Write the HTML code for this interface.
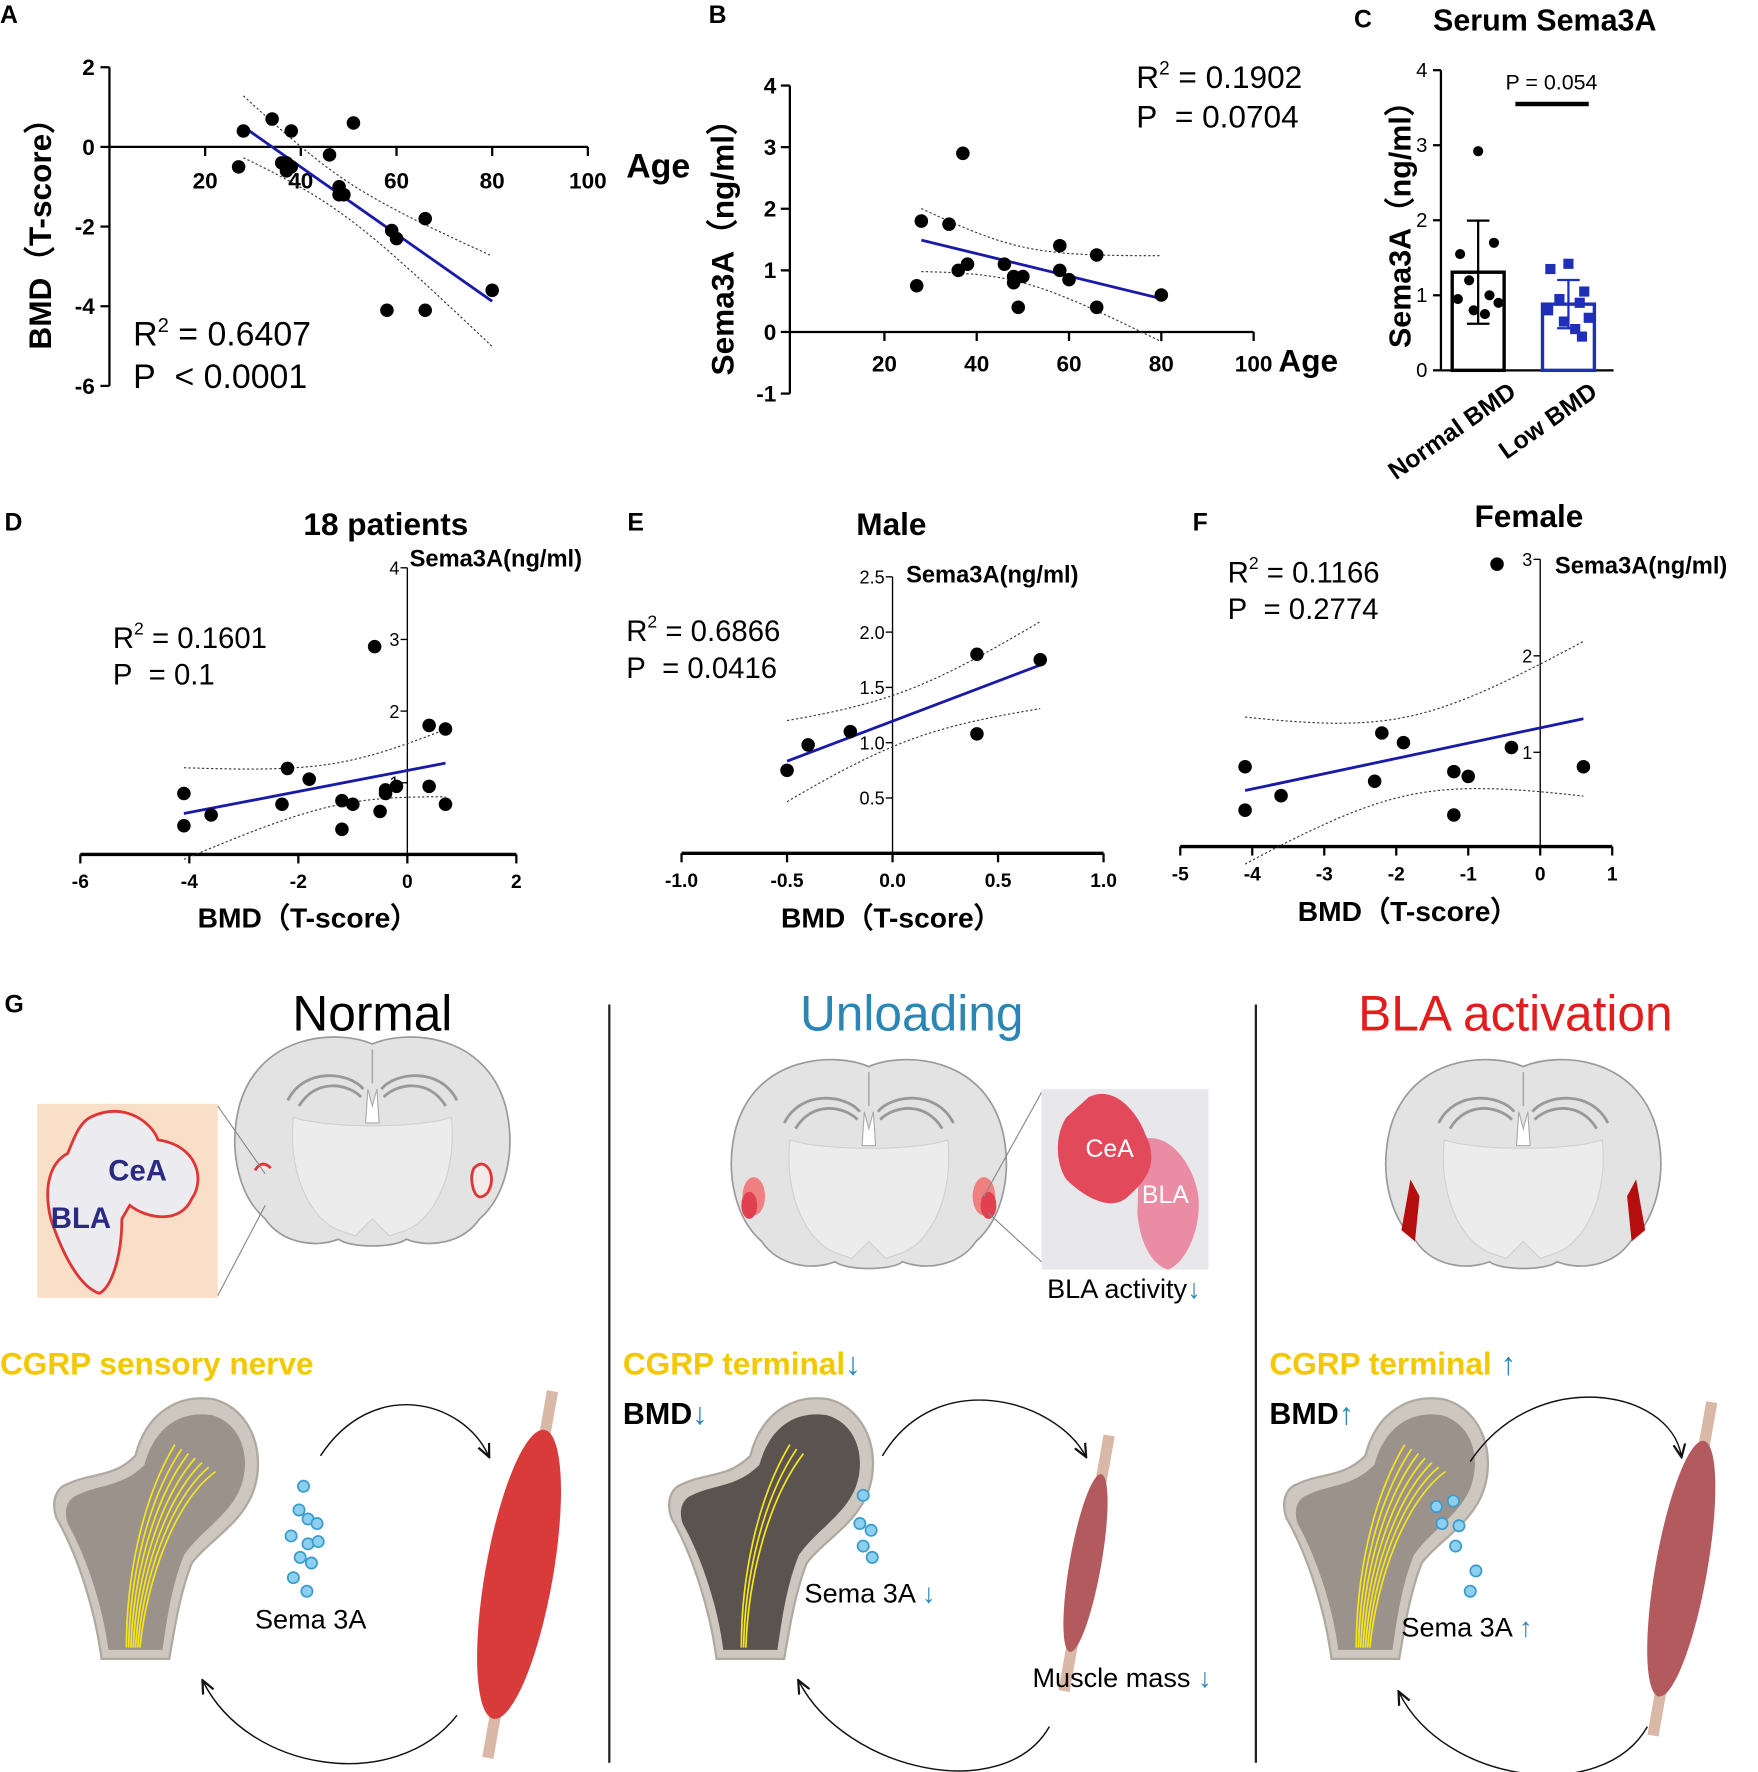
<!DOCTYPE html>
<html><head><meta charset="utf-8"><style>
html,body{margin:0;padding:0;background:#fff;}
svg{display:block;}
text{font-family:"Liberation Sans",Arial,sans-serif;}
.t{font-weight:bold;font-size:20px;}
.ax{stroke:#000;stroke-width:2;fill:none;}
</style></head><body>
<svg id="fig" xmlns="http://www.w3.org/2000/svg" width="1758" height="1772" viewBox="0 0 1558 1570">
<g id="charts"></g>
<g id="schem"></g>
</svg>
<script>
// ---- data ----
const ageA = [27,28,34,36,37,38,38,37,46,48,48,49,51,58,59,60,66,66,80];
const bmdA = [-0.5,0.4,0.7,-0.4,-0.6,0.4,-0.5,-0.4,-0.2,-1.0,-1.2,-1.2,0.6,-4.1,-2.1,-2.3,-1.8,-4.1,-3.6];
const ageB = [27,28,34,36,37,38,46,48,48,49,50,58,58,60,66,66,80];
const semaB = [0.75,1.8,1.75,1.0,2.9,1.1,1.1,0.9,0.8,0.4,0.9,1.4,1.0,0.85,1.25,0.4,0.6];
const normalPts = [2.92,1.55,1.7,1.2,1.0,0.95,0.9,0.8,0.75];
const lowPts = [1.42,1.35,1.05,0.95,0.9,0.8,0.7,0.65,0.55,0.45];
const bmdD = [-4.1,-4.1,-3.6,-2.2,-2.3,-1.8,-1.2,-1.2,-1.0,-0.5,-0.4,-0.4,-0.2,0.4,0.4,0.7,0.7,-0.6];
const semaD = [0.85,0.4,0.55,1.2,0.7,1.05,0.75,0.35,0.7,0.6,0.85,0.9,0.95,1.8,0.95,1.75,0.7,2.9];
const bmdE = [-0.5,-0.4,-0.2,0.4,0.4,0.7];
const semaE = [0.75,0.98,1.1,1.8,1.08,1.75];
const bmdF = [-4.1,-4.1,-3.6,-2.2,-2.3,-1.9,-1.2,-1.2,-1.0,-0.4,0.6,-0.6];
const semaF = [0.85,0.4,0.55,1.2,0.7,1.1,0.8,0.35,0.75,1.05,0.85,2.95];
const ticksAx = [20,40,60,80,100], ticksAy = [2,0,-2,-4,-6];
const ticksBx = [20,40,60,80,100], ticksBy = [4,3,2,1,0,-1];
const ticksCy = [0,1,2,3,4];
const ticksDx = [-6,-4,-2,0,2], ticksDy = [1,2,3,4];
const ticksEx = [-1.0,-0.5,0.0,0.5,1.0], ticksEy = [0.5,1.0,1.5,2.0,2.5];
const ticksFx = [-5,-4,-3,-2,-1,0,1], ticksFy = [1,2,3];

const NS="http://www.w3.org/2000/svg";
function el(parent,tag,attrs,txt){const e=document.createElementNS(NS,tag);for(const k in attrs)e.setAttribute(k,attrs[k]);if(txt!==undefined)e.textContent=txt;parent.appendChild(e);return e;}
const C=document.getElementById('charts');

function fit(xs,ys){const n=xs.length;const mx=xs.reduce((a,b)=>a+b)/n,my=ys.reduce((a,b)=>a+b)/n;let sxx=0,sxy=0;for(let i=0;i<n;i++){sxx+=(xs[i]-mx)**2;sxy+=(xs[i]-mx)*(ys[i]-my);}const b=sxy/sxx,a=my-b*mx;let sse=0;for(let i=0;i<n;i++)sse+=(ys[i]-a-b*xs[i])**2;const s=Math.sqrt(sse/(n-2));return {a,b,mx,sxx,s,n};}

function regression(g,xs,ys,sx,sy,x0,x1,name){
  const f=fit(xs,ys);const t=2.12;
  const line=el(g,'line',{x1:sx(x0),y1:sy(f.a+f.b*x0),x2:sx(x1),y2:sy(f.a+f.b*x1),stroke:'#1a1aa8','stroke-width':2.5});
  
  
  for(const sgn of [1,-1]){let d='';for(let k=0;k<=40;k++){const x=x0+(x1-x0)*k/40;const se=f.s*Math.sqrt(1/f.n+(x-f.mx)**2/f.sxx);const y=f.a+f.b*x+sgn*t*se;d+=(k?'L':'M')+sx(x).toFixed(1)+','+sy(y).toFixed(1);}
    const p=el(g,'path',{d,fill:'none',stroke:'#333','stroke-width':1,'stroke-dasharray':'2,2'});
    
    }
}
function dots(g,xs,ys,sx,sy,name){for(let i=0;i<xs.length;i++){const c=el(g,'circle',{cx:sx(xs[i]),cy:sy(ys[i]),r:6,fill:'#000'});
  
  }}
function txt(g,x,y,s,attrs,name){const t=el(g,'text',Object.assign({x,y},attrs),s);
  
  return t;}
function r2(g,x,y,r,p,fs,name){const t=el(g,'text',{x,y,'font-size':fs});t.innerHTML='R<tspan dy="-12" font-size="'+(fs*0.6)+'">2</tspan><tspan dy="12"> = '+r+'</tspan>';
  
  
  txt(g,x,y+fs*1.25,'P\u00a0\u00a0'+p,{'font-size':fs},name+'-p-value');}

// ---- Panel A ----
(function(){const g=el(C,'g',{});
 const sx=v=>97+v*4.24, sy=v=>130-v*35.3;
 txt(g,0,20,'A',{'font-size':22,'font-weight':'bold'},'panel-a-label');
 el(g,'line',{x1:97,y1:sy(2),x2:97,y2:sy(-6),class:'ax'});el(g,'line',{x1:97,y1:130,x2:sx(100),y2:130,class:'ax'});
 ticksAy.forEach(v=>{el(g,'line',{x1:89,y1:sy(v),x2:97,y2:sy(v),class:'ax'});txt(g,84,sy(v)+7,String(v),{class:'t','text-anchor':'end'},'y-tick-label');});
 ticksAx.forEach(v=>{el(g,'line',{x1:sx(v),y1:130,x2:sx(v),y2:138,class:'ax'});txt(g,sx(v),167,String(v),{class:'t','text-anchor':'middle'},'x-tick-label');});
 txt(g,555,157,'Age',{'font-size':30,'font-weight':'bold'},'x-axis-title');
 txt(g,0,0,'BMD（T-score）',{'font-size':28,'font-weight':'bold','text-anchor':'middle',transform:'translate(45,200) rotate(-90)'},'y-axis-title');
 regression(g,ageA,bmdA,sx,sy,28,80,'panel-a');dots(g,ageA,bmdA,sx,sy,'panel-a');
 r2(g,118,306,'0.6407','< 0.0001',30,'panel-a');})();

// ---- Panel B ----
(function(){const g=el(C,'g',{});
 const sx=v=>702+v*4.09, sy=v=>294-v*54.6;
 txt(g,628,20,'B',{'font-size':22,'font-weight':'bold'},'panel-b-label');
 el(g,'line',{x1:700,y1:sy(4),x2:700,y2:sy(-1),class:'ax'});el(g,'line',{x1:700,y1:294,x2:sx(100),y2:294,class:'ax'});
 ticksBy.forEach(v=>{el(g,'line',{x1:692,y1:sy(v),x2:700,y2:sy(v),class:'ax'});txt(g,688,sy(v)+7,String(v),{class:'t','text-anchor':'end'},'y-tick-label');});
 ticksBx.forEach(v=>{el(g,'line',{x1:sx(v),y1:294,x2:sx(v),y2:302,class:'ax'});txt(g,sx(v),329,String(v),{class:'t','text-anchor':'middle'},'x-tick-label');});
 txt(g,1133,329,'Age',{'font-size':28,'font-weight':'bold'},'x-axis-title');
 txt(g,0,0,'Sema3A（ng/ml）',{'font-size':28,'font-weight':'bold','text-anchor':'middle',transform:'translate(650,212) rotate(-90)'},'y-axis-title');
 regression(g,ageB,semaB,sx,sy,28,80,'panel-b');dots(g,ageB,semaB,sx,sy,'panel-b');
 r2(g,1007,78,'0.1902','= 0.0704',28,'panel-b');})();

// ---- Panel C ----
(function(){const g=el(C,'g',{});
 const sy=v=>328-v*66.5;
 txt(g,1200,24,'C',{'font-size':22,'font-weight':'bold'},'panel-c-label');
 txt(g,1270,27,'Serum Sema3A',{'font-size':27,'font-weight':'bold'},'panel-c-title');
 el(g,'line',{x1:1277,y1:sy(4),x2:1277,y2:328,class:'ax'});el(g,'line',{x1:1277,y1:328,x2:1430,y2:328,class:'ax'});
 ticksCy.forEach(v=>{el(g,'line',{x1:1270,y1:sy(v),x2:1277,y2:sy(v),class:'ax'});txt(g,1265,sy(v)+6,String(v),{'font-size':18,'text-anchor':'end'},'y-tick-label');});
 txt(g,0,0,'Sema3A（ng/ml）',{'font-size':27,'font-weight':'bold','text-anchor':'middle',transform:'translate(1250,192) rotate(-90)'},'y-axis-title');
 const groups=[[normalPts,1310,'#000','normal-bmd'],[lowPts,1390,'#1f2fb8','low-bmd']];
 const jitter=[0,-16,14,-8,10,-18,18,-4,6,12];
 groups.forEach(([pts,cx,col,nm])=>{const n=pts.length,m=pts.reduce((a,b)=>a+b)/n,sd=Math.sqrt(pts.reduce((a,b)=>a+(b-m)**2,0)/(n-1));
  const b=el(g,'rect',{x:cx-23,y:sy(m),width:46,height:328-sy(m),fill:'none',stroke:col,'stroke-width':3});
  
  el(g,'line',{x1:cx,y1:sy(m+sd),x2:cx,y2:sy(m-sd),stroke:col,'stroke-width':2});
  el(g,'line',{x1:cx-10,y1:sy(m+sd),x2:cx+10,y2:sy(m+sd),stroke:col,'stroke-width':2});
  el(g,'line',{x1:cx-10,y1:sy(m-sd),x2:cx+10,y2:sy(m-sd),stroke:col,'stroke-width':2});
  pts.forEach((v,i)=>{const x=cx+jitter[i];let p;if(nm==='low-bmd')p=el(g,'rect',{x:x-4.5,y:sy(v)-4.5,width:9,height:9,fill:col});else p=el(g,'circle',{cx:x,cy:sy(v),r:4.5,fill:col});
   });});
 el(g,'line',{x1:1343,y1:92,x2:1408,y2:92,stroke:'#000','stroke-width':4});
 txt(g,1375,79,'P = 0.054',{'font-size':19,'text-anchor':'middle'},'significance-label');
 txt(g,0,0,'Normal BMD',{'font-size':22,'font-weight':'bold','text-anchor':'end',transform:'translate(1345,350) rotate(-35)'},'x-tick-label-normal');
 txt(g,0,0,'Low BMD',{'font-size':22,'font-weight':'bold','text-anchor':'end',transform:'translate(1417,350) rotate(-35)'},'x-tick-label-low');})();

// ---- D/E/F ----
function bottomPanel(o){const g=el(C,'g',{});
 const sx=o.sx, sy=o.sy;
 txt(g,o.lx,o.ly,o.letter,{'font-size':22,'font-weight':'bold'},o.name+'-label');
 txt(g,o.tx,o.ty,o.title,{'font-size':28,'font-weight':'bold','text-anchor':'middle'},o.name+'-title');
 el(g,'line',{x1:sx(o.xt[0]),y1:o.x0y,x2:sx(o.xt[o.xt.length-1]),y2:o.x0y,stroke:'#000','stroke-width':3});
 el(g,'line',{x1:sx(0),y1:o.x0y,x2:sx(0),y2:sy(o.yt[o.yt.length-1]),stroke:'#000','stroke-width':1.2});
 o.xt.forEach(v=>{el(g,'line',{x1:sx(v),y1:o.x0y,x2:sx(v),y2:o.x0y+8,class:'ax'});txt(g,sx(v),o.x0y+30,o.fmt(v),{'font-size':17,'font-weight':'bold','text-anchor':'middle'},'x-tick-label');});
 o.yt.forEach(v=>{el(g,'line',{x1:sx(0)-6,y1:sy(v),x2:sx(0),y2:sy(v),stroke:'#000','stroke-width':1.2});txt(g,sx(0)-7,sy(v)+6,o.yfmt(v),{'font-size':16,'text-anchor':'end'},'y-tick-label');});
 txt(g,sx(0)+o.ylx,o.yly,'Sema3A(ng/ml)',{'font-size':21,'font-weight':'bold'},o.name+'-y-axis-title');
 txt(g,o.bx,o.by,'BMD（T-score）',{'font-size':25,'font-weight':'bold','text-anchor':'middle'},o.name+'-x-axis-title');
 regression(g,o.xs,o.ys,sx,sy,o.r0,o.r1,o.name);dots(g,o.xs,o.ys,sx,sy,o.name);
 r2(g,o.rx,o.ry,o.r2,o.p,26,o.name);}
bottomPanel({name:'panel-d',letter:'D',lx:4,ly:470,title:'18 patients',tx:342,ty:474,sx:v=>361+v*48.3,sy:v=>757-v*63.5,x0y:757,xt:ticksDx,yt:ticksDy,fmt:v=>String(v),yfmt:v=>String(v),ylx:2,yly:502,bx:273,by:822,xs:bmdD,ys:semaD,r0:-4.1,r1:0.7,rx:100,ry:574,r2:'0.1601',p:'= 0.1'});
bottomPanel({name:'panel-e',letter:'E',lx:556,ly:470,title:'Male',tx:790,ty:474,sx:v=>791+v*187,sy:v=>756-v*98,x0y:756,xt:ticksEx,yt:ticksEy,fmt:v=>v.toFixed(1),yfmt:v=>v.toFixed(1),ylx:12,yly:516,bx:790,by:822,xs:bmdE,ys:semaE,r0:-0.5,r1:0.7,rx:555,ry:568,r2:'0.6866',p:'= 0.0416'});
bottomPanel({name:'panel-f',letter:'F',lx:1057,ly:470,title:'Female',tx:1355,ty:467,sx:v=>1365+v*63.8,sy:v=>752-v*85.5,x0y:750,xt:ticksFx,yt:ticksFy,fmt:v=>String(v),yfmt:v=>String(v),ylx:13,yly:508,bx:1248,by:816,xs:bmdF,ys:semaF,r0:-4.1,r1:0.6,rx:1088,ry:516,r2:'0.1166',p:'= 0.2774'});

// ---- Schematic G ----
const S=document.getElementById('schem');
function nm(e,n){return e;}
nm(el(S,'text',{x:4,y:897,'font-size':22,'font-weight':'bold'},'G'),'panel-g-label');
nm(el(S,'line',{x1:540,y1:890,x2:540,y2:1562,stroke:'#222','stroke-width':2}),'divider');
nm(el(S,'line',{x1:1113,y1:890,x2:1113,y2:1562,stroke:'#222','stroke-width':2}),'divider');
nm(el(S,'text',{x:330,y:913,'font-size':44,'text-anchor':'middle',fill:'#000'},'Normal'),'title-normal');
nm(el(S,'text',{x:808,y:913,'font-size':44,'text-anchor':'middle',fill:'#2a86b5'},'Unloading'),'title-unloading');
nm(el(S,'text',{x:1343,y:913,'font-size':44,'text-anchor':'middle',fill:'#e21d1d'},'BLA activation'),'title-bla-activation');

function brain(cx,cy,am){const g=nm(el(S,'g',{transform:`translate(${cx},${cy})`}),'brain-section');
 el(g,'path',{d:'M0,-85 C-30,-98 -100,-95 -118,-30 C-128,10 -118,50 -95,70 C-80,92 -50,96 -30,88 C-20,96 20,96 30,88 C50,96 80,92 95,70 C118,50 128,10 118,-30 C100,-95 30,-98 0,-85 Z',fill:'#e3e3e3',stroke:'#9a9a9a','stroke-width':1.5});
 el(g,'path',{d:'M0,-80 L0,-50',stroke:'#aaa','stroke-width':1.5});
 el(g,'path',{d:'M-75,-35 C-60,-65 -20,-60 -8,-45 M75,-35 C60,-65 20,-60 8,-45 M-65,-30 C-50,-55 -22,-50 -10,-38 M65,-30 C50,-55 22,-50 10,-38',fill:'none',stroke:'#999','stroke-width':2.5});
 el(g,'path',{d:'M-70,-20 C-75,30 -55,70 -30,80 L-15,85 L0,70 L15,85 L30,80 C55,70 75,30 70,-20 C40,-10 -40,-10 -70,-20Z',fill:'#ececec',stroke:'#d0d0d0'});
 el(g,'path',{d:'M-4,-45 L0,-30 L4,-45 L6,-15 L-6,-15Z',fill:'#fff',stroke:'#aaa'});
 am(g);}
brain(330,1010,g=>{[-1,1].forEach(s=>el(g,'path',{d:`M${s*90},25 q${s*8},-8 ${s*14},2 q${s*4},10 -${s*2},20 q-${s*8},8 -${s*12},-2 q-${s*4},-12 0,-20Z`,fill:'#f4eaea',stroke:'#e03535','stroke-width':2.5}));});
brain(770,1030,g=>{[-1,1].forEach(s=>{el(g,'ellipse',{cx:s*102,cy:30,rx:10,ry:17,fill:'#f08080'});el(g,'ellipse',{cx:s*106,cy:38,rx:7,ry:12,fill:'#e04050'});});});
brain(1350,1030,g=>{[-1,1].forEach(s=>el(g,'path',{d:`M${s*100},15 L${s*108},60 L${s*96},70 L${s*92},30Z`,fill:'#b50e0e'}));});
// inset normal
nm(el(S,'rect',{x:33,y:978,width:160,height:172,fill:'#f9dfc8'}),'inset-normal');
el(S,'line',{x1:193,y1:980,x2:235,y2:1040,stroke:'#888'});el(S,'line',{x1:193,y1:1148,x2:235,y2:1068,stroke:'#888'});
el(S,'path',{d:'M80,990 C110,975 135,995 140,1010 C175,1015 182,1045 170,1062 C160,1085 130,1080 115,1068 L108,1080 C108,1110 100,1140 88,1146 C70,1140 55,1110 45,1080 C38,1050 45,1030 60,1022 C65,1010 70,995 80,990Z',fill:'#ececf0',stroke:'#e03535','stroke-width':2.5});
nm(el(S,'text',{x:96,y:1046,'font-size':26,'font-weight':'bold',fill:'#2a2a80'},'CeA'),'label-cea');
nm(el(S,'text',{x:45,y:1088,'font-size':26,'font-weight':'bold',fill:'#2a2a80'},'BLA'),'label-bla');
// inset unloading
nm(el(S,'rect',{x:923,y:965,width:148,height:160,fill:'#e8e8ec'}),'inset-unloading');
el(S,'line',{x1:923,y1:968,x2:872,y2:1060,stroke:'#888'});el(S,'line',{x1:923,y1:1118,x2:876,y2:1075,stroke:'#888'});
el(S,'path',{d:'M1010,1010 C1040,1000 1060,1040 1062,1060 C1065,1090 1050,1120 1035,1125 C1020,1120 1010,1100 1008,1075Z',fill:'#e98ca4'});
el(S,'path',{d:'M965,972 C990,960 1010,990 1015,1005 C1030,1035 1010,1050 1000,1060 C985,1075 960,1060 945,1045 C935,1030 935,1005 945,990Z',fill:'#e24a5c'});
nm(el(S,'text',{x:962,y:1025,'font-size':22,fill:'#fff'},'CeA'),'label-cea');
nm(el(S,'text',{x:1012,y:1066,'font-size':22,fill:'#fff'},'BLA'),'label-bla');
const ba=nm(el(S,'text',{x:928,y:1150,'font-size':24}),'label-bla-activity');ba.innerHTML='BLA activity<tspan fill="#2a86b5">↓</tspan>';

// bones
function bone(dx,dark){const g=nm(el(S,'g',{transform:`translate(${dx},0)`}),'femur-bone');
 el(g,'path',{d:'M60,1315 C80,1305 100,1310 120,1290 C130,1250 160,1235 190,1240 C225,1250 235,1290 225,1320 C215,1350 185,1365 170,1385 C160,1410 155,1440 150,1470 L90,1470 C85,1430 70,1380 50,1345 C45,1330 50,1318 60,1315Z',fill:'#cdc7bf',stroke:'#b0a9a0','stroke-width':2});
 el(g,'path',{d:'M68,1325 C88,1315 108,1318 128,1298 C138,1262 162,1250 188,1254 C215,1262 222,1292 214,1316 C205,1342 178,1356 163,1378 C152,1405 148,1435 144,1462 L96,1462 C92,1428 78,1382 60,1350 C56,1338 60,1328 68,1325Z',fill:dark?'#4e4643':'#8a807a',opacity:dark?0.9:0.75});
 const n=dark?3:7;
 for(let i=0;i<n;i++) el(g,'path',{d:`M${112+i*2},1460 C${112+i*3},1400 ${125+i*5},1330 ${155+i*6},${1280+i*4}`,fill:'none',stroke:'#f5e51c','stroke-width':1.5});}
bone(0,false);bone(545,true);bone(1090,false);
// muscles
function muscle(cx,cy,w,h,col,rot){const g=nm(el(S,'g',{transform:`translate(${cx},${cy}) rotate(${rot})`}),'muscle');
 el(g,'rect',{x:-4,y:-h/2-35,width:10,height:45,fill:'#d9b8a8'});el(g,'rect',{x:-4,y:h/2-10,width:10,height:45,fill:'#d9b8a8'});
 el(g,'ellipse',{cx:0,cy:0,rx:w/2,ry:h/2,fill:col});}
muscle(460,1395,60,260,'#d93b3b',10);muscle(962,1385,28,160,'#b35a5f',10);muscle(1490,1390,46,230,'#b35a5f',10);
// arrows
function arc(d,n){const p=nm(el(S,'path',{d,fill:'none',stroke:'#111','stroke-width':1.3,'marker-end':'url(#ah)'}),n);}
const defs=el(document.getElementById('fig'),'defs',{});const mk=el(defs,'marker',{id:'ah',markerWidth:10,markerHeight:10,refX:8,refY:5,orient:'auto'});el(mk,'path',{d:'M0,1 L9,5 L0,9',fill:'none',stroke:'#111','stroke-width':1.5});
arc('M284,1290 C330,1220 410,1240 433,1290','arrow');arc('M405,1520 C350,1590 220,1570 180,1490','arrow');
arc('M782,1290 C830,1210 935,1240 962,1290','arrow');arc('M930,1530 C890,1600 750,1570 708,1490','arrow');
arc('M1303,1295 C1360,1210 1480,1230 1490,1290','arrow');arc('M1460,1530 C1420,1600 1280,1580 1240,1500','arrow');
// sema dots
function sdots(list){list.forEach(([x,y])=>nm(el(S,'circle',{cx:x,cy:y,r:5,fill:'#8ccfee',stroke:'#3a9ccc','stroke-width':1.5}),'sema3a-molecule'));}
sdots([[269,1317],[265,1338],[273,1346],[281,1350],[258,1361],[273,1368],[282,1366],[266,1380],[276,1385],[260,1398],[272,1410]]);
sdots([[765,1325],[762,1350],[772,1356],[765,1370],[773,1380]]);
sdots([[1273,1335],[1288,1330],[1278,1350],[1293,1352],[1290,1370],[1308,1392],[1303,1410]]);
// labels
const ylw='#f3c800';
nm(el(S,'text',{x:0,y:1218,'font-size':28,'font-weight':'bold',fill:ylw},'CGRP sensory nerve'),'label-cgrp-sensory-nerve');
const t1=nm(el(S,'text',{x:552,y:1218,'font-size':28,'font-weight':'bold',fill:ylw}),'label-cgrp-terminal-down');t1.innerHTML='CGRP terminal<tspan fill="#2a86b5" font-weight="normal">↓</tspan>';
const t2=nm(el(S,'text',{x:1125,y:1218,'font-size':28,'font-weight':'bold',fill:ylw}),'label-cgrp-terminal-up');t2.innerHTML='CGRP terminal <tspan fill="#2a86b5" font-weight="normal">↑</tspan>';
const t3=nm(el(S,'text',{x:552,y:1262,'font-size':27,'font-weight':'bold'}),'label-bmd-down');t3.innerHTML='BMD<tspan fill="#2a86b5" font-weight="normal">↓</tspan>';
const t4=nm(el(S,'text',{x:1125,y:1262,'font-size':27,'font-weight':'bold'}),'label-bmd-up');t4.innerHTML='BMD<tspan fill="#2a86b5" font-weight="normal">↑</tspan>';
nm(el(S,'text',{x:226,y:1443,'font-size':24},'Sema 3A'),'label-sema3a');
const t5=nm(el(S,'text',{x:713,y:1420,'font-size':24}),'label-sema3a-down');t5.innerHTML='Sema 3A <tspan fill="#2a86b5">↓</tspan>';
const t6=nm(el(S,'text',{x:1242,y:1450,'font-size':24}),'label-sema3a-up');t6.innerHTML='Sema 3A <tspan fill="#2a86b5">↑</tspan>';
const t7=nm(el(S,'text',{x:915,y:1495,'font-size':24}),'label-muscle-mass-down');t7.innerHTML='Muscle mass <tspan fill="#2a86b5">↓</tspan>';
</script>
</body></html>
